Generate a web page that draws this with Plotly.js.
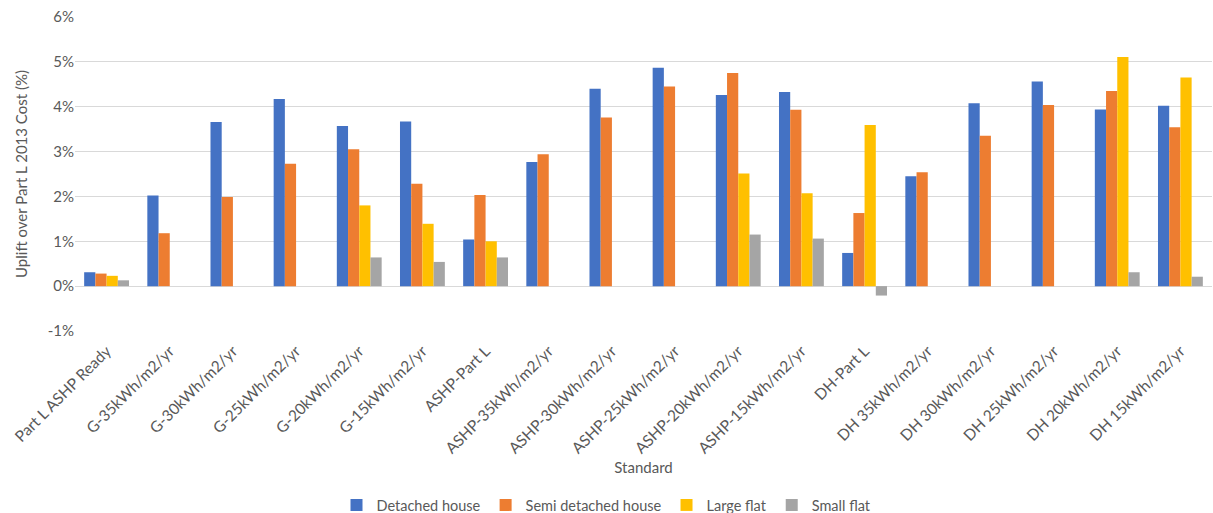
<!DOCTYPE html>
<html>
<head>
<meta charset="utf-8">
<script src="https://cdn.plot.ly/plotly-3.0.1.min.js"></script>
<style>html,body{margin:0;padding:0;background:#fff;}#chart{width:1213px;height:513px;}</style>
</head>
<body>
<div id="chart"></div>
<script>
const categories = ["Part L ASHP Ready","G-35kWh/m2/yr","G-30kWh/m2/yr","G-25kWh/m2/yr","G-20kWh/m2/yr","G-15kWh/m2/yr","ASHP-Part L","ASHP-35kWh/m2/yr","ASHP-30kWh/m2/yr","ASHP-25kWh/m2/yr","ASHP-20kWh/m2/yr","ASHP-15kWh/m2/yr","DH-Part L","DH 35kWh/m2/yr","DH 30kWh/m2/yr","DH 25kWh/m2/yr","DH 20kWh/m2/yr","DH 15kWh/m2/yr"];
const detachedHouse = [0.31,2.02,3.66,4.17,3.57,3.67,1.04,2.77,4.40,4.87,4.26,4.33,0.74,2.45,4.08,4.56,3.94,4.02];
const semiDetachedHouse = [0.28,1.18,1.99,2.73,3.05,2.28,2.03,2.94,3.76,4.45,4.75,3.93,1.63,2.54,3.35,4.04,4.35,3.54];
const largeFlat = [0.23,null,null,null,1.80,1.39,1.00,null,null,null,2.51,2.07,3.59,null,null,null,5.11,4.65];
const smallFlat = [0.13,null,null,null,0.64,0.54,0.64,null,null,null,1.15,1.06,-0.21,null,null,null,0.31,0.21];
const seriesNames = ["Detached house","Semi detached house","Large flat","Small flat"];
const seriesColors = ["#4472C4","#ED7D31","#FFC000","#A5A5A5"];
const yTickVals = [-1,0,1,2,3,4,5,6];
const yTickText = ["-1%","0%","1%","2%","3%","4%","5%","6%"];

const fontFam = "Lato, 'Liberation Sans', sans-serif";
const txt = "#595959";
const data = [detachedHouse, semiDetachedHouse, largeFlat, smallFlat].map((vals, i) => ({
  type: "bar",
  name: seriesNames[i],
  x: categories,
  y: vals,
  marker: {color: seriesColors[i]},
  hoverinfo: "x+y+name"
}));

const layout = {
  width: 1213, height: 513,
  margin: {l: 75, r: 1, t: 17, b: 182},
  paper_bgcolor: "#fff", plot_bgcolor: "#fff",
  barmode: "group",
  bargap: 0.29,
  bargroupgap: 0,
  font: {family: fontFam, color: txt, size: 15},
  xaxis: {
    type: "category",
    tickangle: -45,
    tickfont: {size: 15.5, color: txt, family: fontFam},
    showgrid: false,
    showline: false,
    ticks: "outside",
    ticklen: 4,
    tickcolor: "rgba(0,0,0,0)",
    title: {text: "Standard", font: {size: 15, color: txt, family: fontFam}, standoff: 6},
    automargin: false
  },
  yaxis: {
    range: [-1, 6],
    tickvals: yTickVals,
    ticktext: yTickText,
    tickfont: {size: 15, color: txt, family: fontFam},
    gridcolor: "#D9D9D9",
    gridwidth: 1,
    zeroline: true,
    zerolinecolor: "#D9D9D9",
    zerolinewidth: 1,
    showline: false,
    ticks: "",
    ticklen: 0,
    title: {text: "Uplift over Part L 2013 Cost (%)", font: {size: 15, color: txt, family: fontFam}, standoff: 16},
    automargin: false
  },
  showlegend: true,
  legend: {
    orientation: "h",
    x: 0.5, xanchor: "center", xref: "container",
    y: 0.0156, yanchor: "middle", yref: "container",
    font: {size: 14.5, color: txt, family: fontFam},
    itemwidth: 30,
    tracegroupgap: 0,
    traceorder: "normal"
  }
};

Plotly.newPlot("chart", data, layout, {displayModeBar: false, staticPlot: true});
</script>
</body>
</html>
